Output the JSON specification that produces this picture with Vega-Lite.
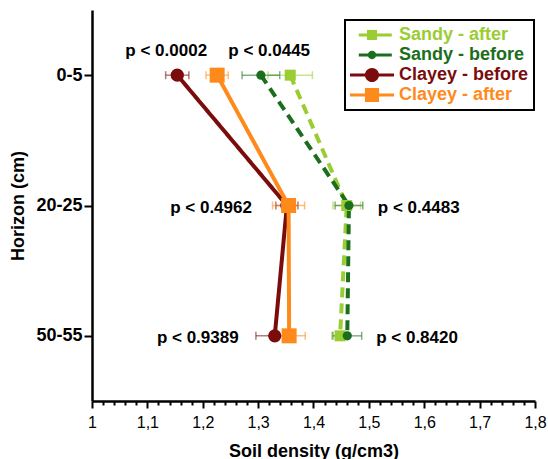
{
  "$schema": "https://vega.github.io/schema/vega-lite/v6.json",
  "width": 443,
  "height": 391,
  "autosize": {"type": "none"},
  "padding": {"left": 92, "top": 10, "right": 13, "bottom": 58},
  "background": "white",
  "config": {"view": {"stroke": null}, "font": "Liberation Sans", "legend": {"strokeWidth": 2}},
  "datasets": {
    "points": [
      {"series": "Sandy - after", "horizon": "0-5", "density": 1.358, "err": 0.04},
      {"series": "Sandy - after", "horizon": "20-25", "density": 1.46, "err": 0.025},
      {"series": "Sandy - after", "horizon": "50-55", "density": 1.448, "err": 0.015},
      {"series": "Sandy - before", "horizon": "0-5", "density": 1.305, "err": 0.034},
      {"series": "Sandy - before", "horizon": "20-25", "density": 1.464, "err": 0.025},
      {"series": "Sandy - before", "horizon": "50-55", "density": 1.461, "err": 0.026},
      {"series": "Clayey - before", "horizon": "0-5", "density": 1.154, "err": 0.021},
      {"series": "Clayey - before", "horizon": "20-25", "density": 1.352, "err": 0.02},
      {"series": "Clayey - before", "horizon": "50-55", "density": 1.33, "err": 0.034},
      {"series": "Clayey - after", "horizon": "0-5", "density": 1.226, "err": 0.02},
      {"series": "Clayey - after", "horizon": "20-25", "density": 1.355, "err": 0.029},
      {"series": "Clayey - after", "horizon": "50-55", "density": 1.356, "err": 0.029}
    ],
    "labels": [
      {"label": "p < 0.0002", "horizon": "0-5", "density": 1.134},
      {"label": "p < 0.0445", "horizon": "0-5", "density": 1.32},
      {"label": "p < 0.4962", "horizon": "20-25", "density": 1.215},
      {"label": "p < 0.4483", "horizon": "20-25", "density": 1.59},
      {"label": "p < 0.9389", "horizon": "50-55", "density": 1.191},
      {"label": "p < 0.8420", "horizon": "50-55", "density": 1.587}
    ]
  },
  "encoding": {
    "x": {
      "field": "density",
      "type": "quantitative",
      "title": "Soil density (g/cm3)",
      "scale": {"domain": [1, 1.8], "nice": false, "zero": false},
      "axis": {
        "values": [1, 1.02, 1.04, 1.06, 1.08, 1.1, 1.12, 1.14, 1.16, 1.18, 1.2, 1.22, 1.24, 1.26, 1.28, 1.3, 1.32, 1.34, 1.36, 1.38, 1.4, 1.42, 1.44, 1.46, 1.48, 1.5, 1.52, 1.54, 1.56, 1.58, 1.6, 1.62, 1.64, 1.66, 1.68, 1.7, 1.72, 1.74, 1.76, 1.78, 1.8],
        "labelExpr": "abs(datum.value*10 - round(datum.value*10)) < 0.001 ? (datum.value == 1 ? '1' : replace(format(datum.value, '.1f'), '.', ',')) : ''",
        "labelOverlap": false,
        "labelFlush": false,
        "labelFontSize": 16,
        "labelColor": "black",
        "labelPadding": 6,
        "tickSize": {"condition": {"test": "abs(datum.value*10 - round(datum.value*10)) < 0.001", "value": 7}, "value": 4},
        "tickWidth": 2,
        "tickColor": "black",
        "domainColor": "black",
        "domainWidth": 2.5,
        "titleFontSize": 18,
        "titleFontWeight": "bold",
        "titleColor": "black",
        "titlePadding": 12,
        "grid": false
      }
    },
    "y": {
      "field": "horizon",
      "type": "ordinal",
      "sort": ["0-5", "20-25", "50-55"],
      "scale": {"type": "point", "padding": 0.5},
      "axis": {
        "title": "Horizon (cm)",
        "titleFontSize": 18,
        "titleFontWeight": "bold",
        "titleColor": "black",
        "titlePadding": 8,
        "labelFontSize": 18,
        "labelFontWeight": "bold",
        "labelColor": "black",
        "labelPadding": 2,
        "domainColor": "black",
        "domainWidth": 2.5,
        "tickColor": "black",
        "tickWidth": 2,
        "tickSize": 8,
        "grid": false
      }
    }
  },
  "layer": [
    {
      "data": {"name": "points"},
      "mark": {"type": "line", "strokeWidth": 4},
      "encoding": {
        "order": {"value": null},
        "color": {
          "field": "series",
          "type": "nominal",
          "scale": {
            "domain": ["Sandy - after", "Sandy - before", "Clayey - before", "Clayey - after"],
            "range": ["#9ACD32", "#1B6E1B", "#7A0C0C", "#FF8A1C"]
          },
          "legend": {
            "title": null,
            "orient": "none",
            "legendX": 253,
            "legendY": 10,
            "direction": "vertical",
            "fillColor": "white",
            "strokeColor": "black",
            "padding": 5,
            "rowPadding": 0,
            "clipHeight": 20,
            "symbolSize": 1936,
            "labelFontSize": 18,
            "labelFontWeight": "bold",
            "labelOffset": 5,
            "encode": {
              "labels": {"update": {"fill": {"scale": "color", "field": "value"}}},
              "symbols": {
                "update": {
                  "shape": {"signal": "datum.value == 'Sandy - after' ? 'M-0.6,-0.07H0.9V0.07H-0.6Z M-0.23,-0.23H0.23V0.23H-0.23Z' : datum.value == 'Sandy - before' ? 'M-0.6,-0.07H0.9V0.07H-0.6Z M0.19,0A0.19,0.19 0 1,1 -0.19,0A0.19,0.19 0 1,1 0.19,0Z' : datum.value == 'Clayey - before' ? 'M-1,-0.07H1V0.07H-1Z M0.32,0A0.32,0.32 0 1,1 -0.32,0A0.32,0.32 0 1,1 0.32,0Z' : 'M-1,-0.07H1V0.07H-1Z M-0.32,-0.32H0.32V0.32H-0.32Z'"},
                  "fill": {"scale": "color", "field": "value"},
                  "size": {"value": 1936},
                  "strokeWidth": {"value": 0},
                  "strokeDash": {"value": [1, 0]},
                  "opacity": {"value": 1}
                }
              }
            }
          }
        },
        "strokeDash": {
          "field": "series",
          "type": "nominal",
          "scale": {
            "domain": ["Sandy - after", "Sandy - before", "Clayey - before", "Clayey - after"],
            "range": [[10, 6], [10, 6], [1, 0], [1, 0]]
          },
          "legend": null
        }
      }
    },
    {
      "data": {"name": "points"},
      "mark": {"type": "errorbar", "ticks": {"size": 8, "thickness": 1.5, "opacity": 0.55}, "thickness": 1.5, "opacity": 0.55},
      "encoding": {
        "xError": {"field": "err"},
        "color": {"field": "series", "type": "nominal"}
      }
    },
    {
      "data": {"name": "points"},
      "transform": [{"filter": "datum.series == 'Sandy - after'"}],
      "mark": {"type": "point", "shape": "square", "size": 121, "filled": true, "opacity": 1},
      "encoding": {"color": {"field": "series", "type": "nominal"}}
    },
    {
      "data": {"name": "points"},
      "transform": [{"filter": "datum.series == 'Sandy - before'"}],
      "mark": {"type": "point", "shape": "circle", "size": 85, "filled": true, "opacity": 1},
      "encoding": {"color": {"field": "series", "type": "nominal"}}
    },
    {
      "data": {"name": "points"},
      "transform": [{"filter": "datum.series == 'Clayey - before'"}],
      "mark": {"type": "point", "shape": "circle", "size": 177, "filled": true, "opacity": 1},
      "encoding": {"color": {"field": "series", "type": "nominal"}}
    },
    {
      "data": {"name": "points"},
      "transform": [{"filter": "datum.series == 'Clayey - after'"}],
      "mark": {"type": "point", "shape": "square", "size": 225, "filled": true, "opacity": 1},
      "encoding": {"color": {"field": "series", "type": "nominal"}}
    },
    {
      "data": {"name": "labels"},
      "transform": [{"filter": "datum.horizon == '0-5'"}],
      "mark": {"type": "text", "fontSize": 17, "fontWeight": "bold", "color": "black", "dy": -24},
      "encoding": {"text": {"field": "label"}}
    },
    {
      "data": {"name": "labels"},
      "transform": [{"filter": "datum.horizon != '0-5'"}],
      "mark": {"type": "text", "fontSize": 17, "fontWeight": "bold", "color": "black", "dy": 2},
      "encoding": {"text": {"field": "label"}}
    }
  ]
}
